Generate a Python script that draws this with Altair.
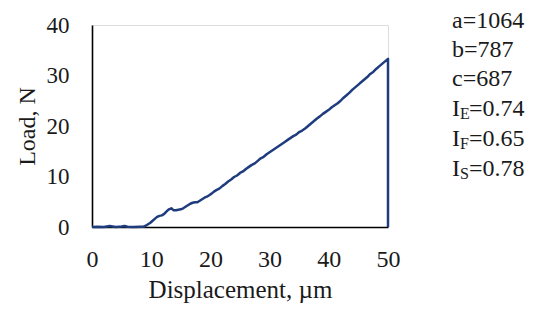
import altair as alt
import pandas as pd

disp = [0, 1, 2, 3, 3.5, 4, 5, 5.5, 6, 7, 8, 8.7,
        9.0, 9.4, 9.8, 10.2, 10.6, 11.0, 11.4, 11.8, 12.2, 12.6, 13.0, 13.4, 13.8,
        14.2, 14.6, 15.0, 15.4, 15.8, 16.2, 16.6, 17.0, 17.4, 17.8, 18.2, 18.6,
        19.0, 19.4, 19.8, 20.2, 20.6, 21.0, 21.5, 22.0, 22.5, 23.0, 23.5, 24.0,
        24.5, 25.0, 25.5, 26.0, 26.5, 27.0, 27.5, 28.0, 28.5, 29.0, 29.5, 30.0,
        30.5, 31.0, 31.5, 32.0, 32.5, 33.0, 33.5, 34.0, 34.5, 35.0, 35.5, 36.0,
        36.5, 37.0, 37.5, 38.0, 38.5, 39.0, 39.5, 40.0, 40.5, 41.0, 41.5, 42.0,
        42.5, 43.0, 43.5, 44.0, 44.5, 45.0, 45.5, 46.0, 46.5, 47.0, 47.5, 48.0,
        48.5, 49.0, 49.5, 50.0, 50.0]
load = [0, 0.05, 0, 0.2, 0.1, 0, 0.1, 0.2, 0.05, 0, 0.05, 0.05,
        0.2, 0.5, 0.8, 1.2, 1.6, 2.0, 2.2, 2.3, 2.6, 3.1, 3.5, 3.7, 3.3,
        3.3, 3.4, 3.5, 3.7, 4.0, 4.3, 4.6, 4.8, 4.9, 4.9, 5.2, 5.5,
        5.8, 6.0, 6.3, 6.6, 7.0, 7.3, 7.6, 8.1, 8.5, 9.0, 9.4, 9.9,
        10.2, 10.7, 11.0, 11.5, 11.9, 12.3, 12.6, 13.1, 13.6, 13.9, 14.4, 14.8,
        15.2, 15.6, 16.0, 16.4, 16.8, 17.2, 17.6, 18.0, 18.3, 18.8, 19.1, 19.5,
        20.0, 20.5, 21.0, 21.5, 21.9, 22.4, 22.8, 23.2, 23.7, 24.1, 24.5, 25.0,
        25.6, 26.1, 26.6, 27.2, 27.7, 28.2, 28.7, 29.2, 29.7, 30.3, 30.7, 31.3,
        31.8, 32.3, 32.8, 33.3, 0]

ann_main = ["a=1064", "b=787", "c=687", "I", "I", "I"]
ann_sub = ["", "", "", "E", "F", "S"]
ann_rest = ["", "", "", "=0.74", "=0.65", "=0.78"]

FONT = "Liberation Serif"
df = pd.DataFrame({"x": disp, "y": load, "i": list(range(len(disp)))})

line = alt.Chart(df).mark_line(color="#1f3c7e", strokeWidth=2.5, strokeJoin="round").encode(
    x=alt.X("x:Q", scale=alt.Scale(domain=[0, 50], nice=False),
            axis=alt.Axis(values=[0, 10, 20, 30, 40, 50], title="Displacement, µm",
                          grid=False, ticks=False, tickSize=0, labelPadding=20,
                          labelFont=FONT, labelFontSize=24, labelColor="#1a1a1a",
                          titleFont=FONT, titleFontSize=25, titleFontWeight="normal",
                          titleColor="#1a1a1a", titleX=148, titleY=70,
                          titleBaseline="alphabetic",
                          domainColor="black", domainWidth=1.6, labelFlush=False)),
    y=alt.Y("y:Q", scale=alt.Scale(domain=[0, 40], nice=False),
            axis=alt.Axis(values=[0, 10, 20, 30, 40], title="Load, N",
                          grid=False, ticks=False, tickSize=0, labelPadding=23,
                          labelFont=FONT, labelFontSize=23, labelColor="#1a1a1a",
                          titleFont=FONT, titleFontSize=24, titleFontWeight="normal",
                          titleColor="#1a1a1a", titleX=-65, titleY=101,
                          titleBaseline="middle", titleAlign="center", titleAngle=-90,
                          domainColor="black", domainWidth=1.6)),
    order="i:Q",
)

baselines = [3, 32, 61, 91, 121, 151]
layers = [line]
for k in range(len(ann_main)):
    b = baselines[k]
    layers.append(alt.Chart(pd.DataFrame({"t": [ann_main[k]]})).mark_text(
        font=FONT, fontSize=24, align="left", baseline="alphabetic", color="#1a1a1a"
    ).encode(text="t:N", x=alt.value(360), y=alt.value(b)))
    if ann_sub[k]:
        layers.append(alt.Chart(pd.DataFrame({"t": [ann_sub[k]]})).mark_text(
            font=FONT, fontSize=16, align="left", baseline="alphabetic", color="#1a1a1a"
        ).encode(text="t:N", x=alt.value(368), y=alt.value(b + 3)))
        layers.append(alt.Chart(pd.DataFrame({"t": [ann_rest[k]]})).mark_text(
            font=FONT, fontSize=24, align="left", baseline="alphabetic", color="#1a1a1a"
        ).encode(text="t:N", x=alt.value(377), y=alt.value(b)))

chart = alt.layer(*layers).properties(
    width=296, height=202,
    autosize=alt.AutoSizeParams(type="none"),
    padding={"left": 84, "top": 17, "right": 145, "bottom": 76},
).configure_view(stroke=None).configure(background="white")

chart.save("out.html", embed_options={"renderer": "svg", "actions": False})
